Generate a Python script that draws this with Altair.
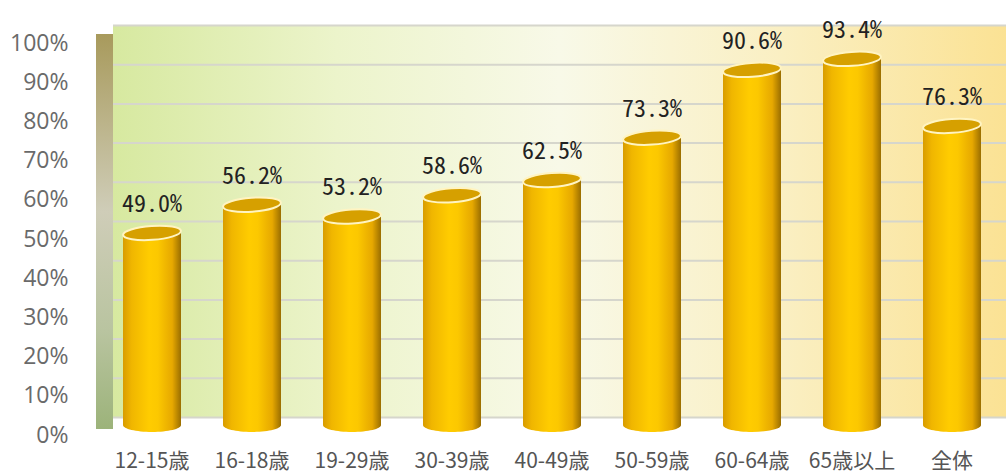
import altair as alt
import pandas as pd

categories = ["12-15歳", "16-18歳", "19-29歳", "30-39歳", "40-49歳", "50-59歳", "60-64歳", "65歳以上", "全体"]
values = [49.0, 56.2, 53.2, 58.6, 62.5, 73.3, 90.6, 93.4, 76.3]
labels = ["49.0%", "56.2%", "53.2%", "58.6%", "62.5%", "73.3%", "90.6%", "93.4%", "76.3%"]
tick_values = [0, 10, 20, 30, 40, 50, 60, 70, 80, 90, 100]

df = pd.DataFrame({"cat": categories, "val": values, "label": labels})
grid_df = pd.DataFrame({"t": tick_values})
one = pd.DataFrame({"a": [0]})

W, H = 900, 392
BAR_W = 58
OFF = -10     # bar depth offset
WALL = -17.5  # back-wall offset

xscale = alt.Scale(domain=categories, paddingInner=0, paddingOuter=0)
yscale = alt.Scale(domain=[0, 100], nice=False)

x_enc = alt.X("cat:N", scale=xscale, sort=categories,
              axis=alt.Axis(title=None, labelAngle=0, labelFontSize=21, labelColor="#555555",
                            labelFont="Noto Sans CJK JP", labelPadding=15, domain=False, ticks=False))
y_axis = alt.Axis(title=None, values=tick_values, labelExpr="datum.value + '%'",
                  labelFontSize=23, labelColor="#6a6a6a", labelFont="Open Sans",
                  labelOverlap=False, labelPadding=34,
                  domain=False, ticks=False, grid=False)
y_enc = alt.Y("val:Q", scale=yscale, axis=y_axis)

bg_grad = alt.Gradient(gradient="linear", x1=0, x2=1, y1=0, y2=0, stops=[
    alt.GradientStop(color="#d7e9a0", offset=0),
    alt.GradientStop(color="#ecf4cb", offset=0.25),
    alt.GradientStop(color="#f8f9e8", offset=0.5),
    alt.GradientStop(color="#faefc2", offset=0.75),
    alt.GradientStop(color="#fbe294", offset=1),
])
background = alt.Chart(one).mark_rect(color=bg_grad, yOffset=WALL, y2Offset=WALL).encode(
    x=alt.value(11), x2=alt.value(W + 4),
    y=alt.Y(datum=100, scale=yscale, axis=y_axis), y2=alt.datum(0),
)

wall_grad = alt.Gradient(gradient="linear", x1=0, x2=0, y1=0, y2=1, stops=[
    alt.GradientStop(color="#a89a5c", offset=0),
    alt.GradientStop(color="#cfcdb8", offset=0.45),
    alt.GradientStop(color="#b9c4a0", offset=0.75),
    alt.GradientStop(color="#9cb37a", offset=1),
])
side_wall = alt.Chart(one).mark_rect(color=wall_grad, yOffset=-9, y2Offset=-6).encode(
    x=alt.value(-6), x2=alt.value(11),
    y=alt.Y(datum=100, scale=yscale, axis=y_axis), y2=alt.datum(0),
)

grid = alt.Chart(grid_df).mark_rule(color="#d6d6cc", strokeWidth=2, yOffset=WALL).encode(
    x=alt.value(11), x2=alt.value(W + 4),
    y=alt.Y("t:Q", scale=yscale, axis=y_axis),
)

bar_grad = alt.Gradient(gradient="linear", x1=0, x2=1, y1=0, y2=0, stops=[
    alt.GradientStop(color="#d89c00", offset=0),
    alt.GradientStop(color="#f0b600", offset=0.15),
    alt.GradientStop(color="#ffcc00", offset=0.45),
    alt.GradientStop(color="#fcc800", offset=0.6),
    alt.GradientStop(color="#e6a800", offset=0.85),
    alt.GradientStop(color="#9a6e00", offset=1),
])

ellipse = "M -1 0 A 1 0.24 0 1 1 1 0 A 1 0.24 0 1 1 -1 0 Z"

base = alt.Chart(df)

bottoms = base.mark_point(shape=ellipse, size=BAR_W * BAR_W, filled=True, fill=bar_grad,
                          opacity=1, strokeWidth=0, yOffset=OFF).encode(
    x=x_enc, y=alt.Y(datum=0, scale=yscale, axis=y_axis))

bars = base.mark_bar(width=BAR_W, color=bar_grad, yOffset=OFF, y2Offset=OFF).encode(
    x=x_enc, y=y_enc, y2=alt.datum(0))

tops = base.mark_point(shape=ellipse, size=BAR_W * BAR_W, filled=True, fill="#d6a000",
                       stroke="#fff4c2", strokeWidth=2, opacity=1, angle=356, yOffset=OFF).encode(
    x=x_enc, y=y_enc)

text = base.mark_text(font="Noto Sans Mono CJK JP, DejaVu Sans Mono, monospace",
                      fontSize=24, color="#222222", baseline="middle", dy=-38).encode(
    x=x_enc, y=y_enc, text="label:N")

chart = alt.layer(background, side_wall, grid, bottoms, bars, tops, text).properties(
    width=W, height=H,
    background="white",
    autosize=alt.AutoSizeParams(type="none"),
    padding={"left": 102, "top": 43, "right": 4, "bottom": 37},
).configure_view(stroke=None).configure_axis(grid=False)

chart.save("out.html", embed_options={"renderer": "svg", "actions": False})
